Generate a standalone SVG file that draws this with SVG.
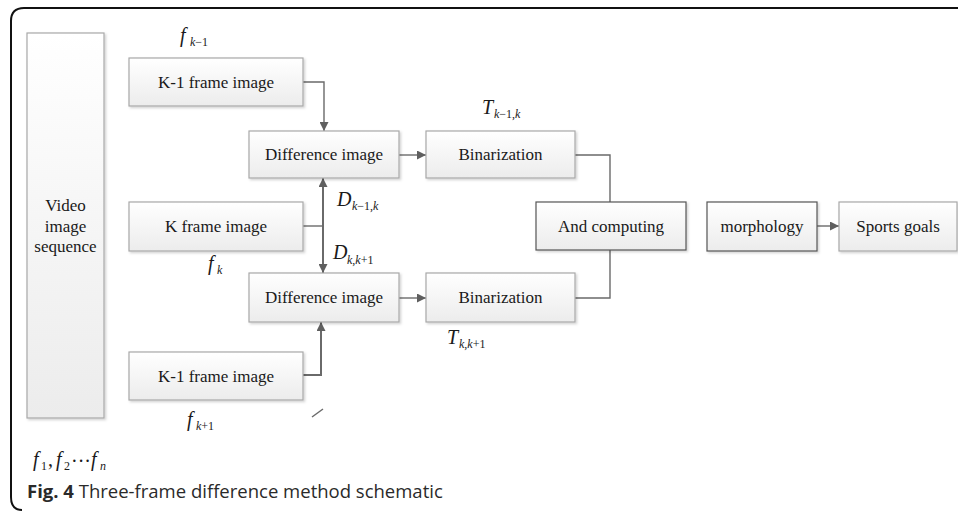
<svg xmlns="http://www.w3.org/2000/svg" width="958" height="516" viewBox="0 0 958 516">
  <defs>
    <linearGradient id="boxFill" x1="0" y1="0" x2="0" y2="1">
      <stop offset="0" stop-color="#ffffff"/>
      <stop offset="1" stop-color="#ececec"/>
    </linearGradient>
    <filter id="shadow" x="-5%" y="-5%" width="115%" height="125%">
      <feDropShadow dx="1.5" dy="1.5" stdDeviation="1" flood-color="#000" flood-opacity="0.18"/>
    </filter>
    <marker id="arrow" viewBox="0 0 10 10" refX="10" refY="5" markerWidth="10" markerHeight="9" markerUnits="userSpaceOnUse" orient="auto">
      <path d="M0,0 L10,5 L0,10 Z" fill="#5f5f5f"/>
    </marker>
    <marker id="arrowStart" viewBox="0 0 10 10" refX="0" refY="5" markerWidth="10" markerHeight="9" markerUnits="userSpaceOnUse" orient="auto">
      <path d="M10,0 L0,5 L10,10 Z" fill="#5f5f5f"/>
    </marker>
  </defs>
  <style>
    .box { fill: url(#boxFill); stroke: #a8a8a8; stroke-width: 1.2; filter: url(#shadow); }
    .box.dark { stroke: #555555; }
    .lbl { font-family: "Liberation Serif", "Times New Roman", serif; font-size: 17px; fill: #1a1a1a; text-anchor: middle; }
    .math { font-family: "Liberation Serif", "Times New Roman", serif; font-style: italic; font-size: 20px; fill: #1a1a1a; }
    .sub { font-family: "Liberation Serif", "Times New Roman", serif; font-size: 12px; fill: #1a1a1a; }
    .it { font-style: italic; }
    .up { font-style: normal; }
    .wire { fill: none; stroke: #6a6a6a; stroke-width: 1.4; }
    .wire.thick { stroke-width: 2; }
    .caption { font-family: "Open Sans", "Liberation Sans", sans-serif; font-size: 18.5px; fill: #2a2a2a; }
  </style>

  <rect width="958" height="516" fill="#ffffff"/>

  <!-- outer frame -->
  <path d="M958,8 H24 Q11,8 11,21 V497 Q11,510 22,510" fill="none" stroke="#111" stroke-width="2"/>

  <!-- connectors -->
  <g id="connectors">
    <path class="wire" d="M303,82 H324 V131" marker-end="url(#arrow)"/>
    <path class="wire thick" d="M323,178 V273" marker-start="url(#arrowStart)" marker-end="url(#arrow)"/>
    <path class="wire" d="M303,226 H323"/>
    <path class="wire thick" d="M303,375 H321 V322" marker-end="url(#arrow)"/>
    <path class="wire" d="M399,155 H426" marker-end="url(#arrow)"/>
    <path class="wire" d="M399,298 H426" marker-end="url(#arrow)"/>
    <path class="wire" d="M575,155 H610 V202"/>
    <path class="wire" d="M575,298 H610 V250"/>
    <path class="wire" d="M817,226 H839" marker-end="url(#arrow)"/>
    <path class="wire" d="M312,417 L323,409" stroke-width="1"/>
  </g>

  <!-- nodes -->
  <g id="video-sequence">
    <rect class="box" x="27" y="33" width="77" height="385"/>
    <text class="lbl" x="65.5" y="211">Video</text>
    <text class="lbl" x="65.5" y="232">image</text>
    <text class="lbl" x="65.5" y="252">sequence</text>
  </g>

  <g id="frame-prev">
    <rect class="box" x="129" y="58" width="174" height="48"/>
    <text class="lbl" x="216" y="88">K-1 frame image</text>
  </g>

  <g id="frame-cur">
    <rect class="box" x="129" y="202" width="174" height="49"/>
    <text class="lbl" x="216" y="232">K frame image</text>
  </g>

  <g id="frame-next">
    <rect class="box" x="129" y="352" width="174" height="48"/>
    <text class="lbl" x="216" y="382">K-1 frame image</text>
  </g>

  <g id="diff-1">
    <rect class="box" x="249" y="131" width="150" height="47"/>
    <text class="lbl" x="324" y="160">Difference image</text>
  </g>

  <g id="diff-2">
    <rect class="box" x="249" y="273" width="150" height="49"/>
    <text class="lbl" x="324" y="303">Difference image</text>
  </g>

  <g id="bin-1">
    <rect class="box" x="426" y="131" width="149" height="47"/>
    <text class="lbl" x="500.5" y="160">Binarization</text>
  </g>

  <g id="bin-2">
    <rect class="box" x="426" y="273" width="149" height="49"/>
    <text class="lbl" x="500.5" y="303">Binarization</text>
  </g>

  <g id="and-computing">
    <rect class="box dark" x="536" y="202" width="150" height="48"/>
    <text class="lbl" x="611" y="232">And computing</text>
  </g>

  <g id="morphology">
    <rect class="box dark" x="707" y="202" width="110" height="49"/>
    <text class="lbl" x="762" y="232">morphology</text>
  </g>

  <g id="sports-goals">
    <rect class="box" x="839" y="202" width="118" height="49"/>
    <text class="lbl" x="898" y="232">Sports goals</text>
  </g>

  <!-- symbol labels -->
  <g id="labels">
    <text class="math" x="180" y="42">f</text>
    <text class="sub" x="190" y="46"><tspan class="it">k</tspan>−1</text>

    <text class="math" x="208" y="270">f</text>
    <text class="sub" x="217" y="274"><tspan class="it">k</tspan></text>

    <text class="math" x="187" y="426">f</text>
    <text class="sub" x="196" y="430"><tspan class="it">k</tspan>+1</text>

    <text class="math" x="337" y="206">D</text>
    <text class="sub" x="352" y="210"><tspan class="it">k</tspan>−1,<tspan class="it">k</tspan></text>

    <text class="math" x="333" y="259">D</text>
    <text class="sub" x="347" y="264"><tspan class="it">k</tspan>,<tspan class="it">k</tspan>+1</text>

    <text class="math" x="482" y="114">T</text>
    <text class="sub" x="494" y="118"><tspan class="it">k</tspan>−1,<tspan class="it">k</tspan></text>

    <text class="math" x="447" y="344">T</text>
    <text class="sub" x="459" y="348"><tspan class="it">k</tspan>,<tspan class="it">k</tspan>+1</text>

    <!-- f1, f2 ... fn -->
    <text class="math" x="33" y="466">f</text>
    <text class="sub" x="41" y="470" font-size="13">1</text>
    <text class="math up" x="48" y="466">,</text>
    <text class="math" x="56" y="466">f</text>
    <text class="sub" x="64" y="470" font-size="13">2</text>
    <text class="math up" x="71" y="468" font-size="16">···</text>
    <text class="math" x="91" y="466">f</text>
    <text class="sub it" x="100" y="470" font-size="13">n</text>
  </g>

  <text class="caption" x="27" y="498"><tspan font-weight="bold">Fig. 4</tspan> Three-frame difference method schematic</text>
</svg>
